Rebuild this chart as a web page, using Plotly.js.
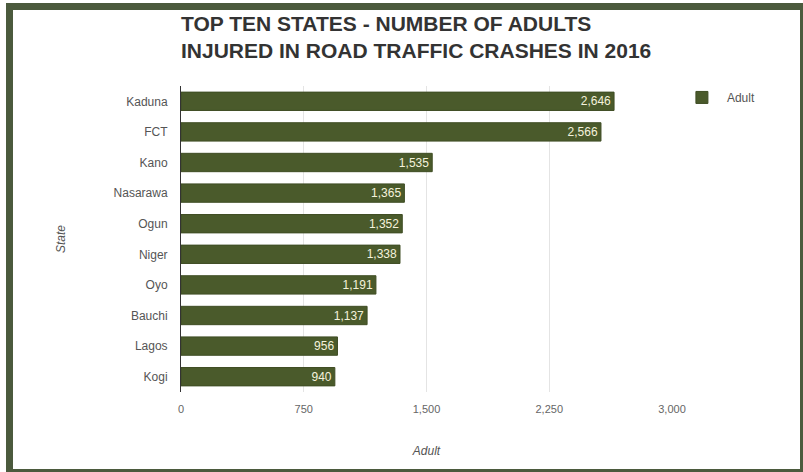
<!DOCTYPE html>
<html>
<head>
<meta charset="utf-8">
<script src="https://cdn.plot.ly/plotly-3.0.1.min.js"></script>
<style>
  html, body { margin: 0; padding: 0; background: #ffffff; }
  #wrap { position: relative; width: 803px; height: 472px; }
  #chart { position: absolute; left: 0; top: 0; width: 803px; height: 472px; }
  #frame { position: absolute; left: 6px; top: 3px; width: 787px; height: 459px;
           border-style: solid; border-color: #4b5a3d;
           border-width: 7px 3px 3px 7px; pointer-events: none; }
</style>
</head>
<body>
<div id="wrap">
  <div id="chart"></div>
  <div id="frame"></div>
</div>
<script>
const states = ["Kaduna", "FCT", "Kano", "Nasarawa", "Ogun", "Niger", "Oyo", "Bauchi", "Lagos", "Kogi"];
const adults = [2646, 2566, 1535, 1365, 1352, 1338, 1191, 1137, 956, 940];
const xTicks = [0, 750, 1500, 2250, 3000];
const xTickLabels = ["0", "750", "1,500", "2,250", "3,000"];

const trace = {
  type: "bar",
  orientation: "h",
  name: "Adult",
  x: adults,
  y: states,
  marker: { color: "#4a5a2b", line: { color: "#3f4d24", width: 1 } },
  text: adults.map(v => v.toLocaleString("en-US")),
  textposition: "inside",
  insidetextanchor: "end",
  constraintext: "none",
  textfont: { family: "Liberation Sans, Arial, sans-serif", size: 12, color: "#f4f2dc" },
  hoverinfo: "x+y"
};

const layout = {
  width: 803,
  height: 472,
  margin: { l: 181, r: 131, t: 86, b: 80 },
  paper_bgcolor: "#ffffff",
  plot_bgcolor: "#ffffff",
  font: { family: "Liberation Sans, Arial, sans-serif", color: "#555555" },
  bargap: 0.4,
  title: {
    text: "TOP TEN STATES - NUMBER OF ADULTS<br>INJURED IN ROAD TRAFFIC CRASHES IN 2016",
    font: { family: "Liberation Sans, Arial, sans-serif", size: 21, color: "#333333", weight: "bold" },
    xref: "paper", x: 0, xanchor: "left",
    yref: "container", y: 0.935, yanchor: "middle"
  },
  xaxis: {
    range: [0, 3000],
    tickvals: xTicks,
    ticktext: xTickLabels,
    showgrid: true,
    gridcolor: "#e4e4e4",
    zeroline: false,
    showline: false,
    ticks: "",
    ticklabelstandoff: 9,
    tickfont: { size: 11, color: "#666666" },
    fixedrange: true,
    title: { text: "<i>Adult</i>", font: { size: 12, color: "#555555" }, standoff: 32 }
  },
  yaxis: {
    type: "category",
    autorange: "reversed",
    showline: true,
    linecolor: "#333333",
    linewidth: 1,
    showgrid: false,
    ticks: "",
    ticklabelstandoff: 10,
    tickfont: { size: 12, color: "#555555" },
    title: { text: "<i>State</i>", font: { size: 12, color: "#555555" }, standoff: 45 }
  },
  showlegend: true,
  legend: {
    x: 1.01, xanchor: "left", y: 1.01, yanchor: "top",
    itemwidth: 40,
    font: { size: 12, color: "#555555" },
    bgcolor: "rgba(0,0,0,0)"
  }
};

Plotly.newPlot("chart", [trace], layout, { displayModeBar: false, staticPlot: true });
</script>
</body>
</html>
